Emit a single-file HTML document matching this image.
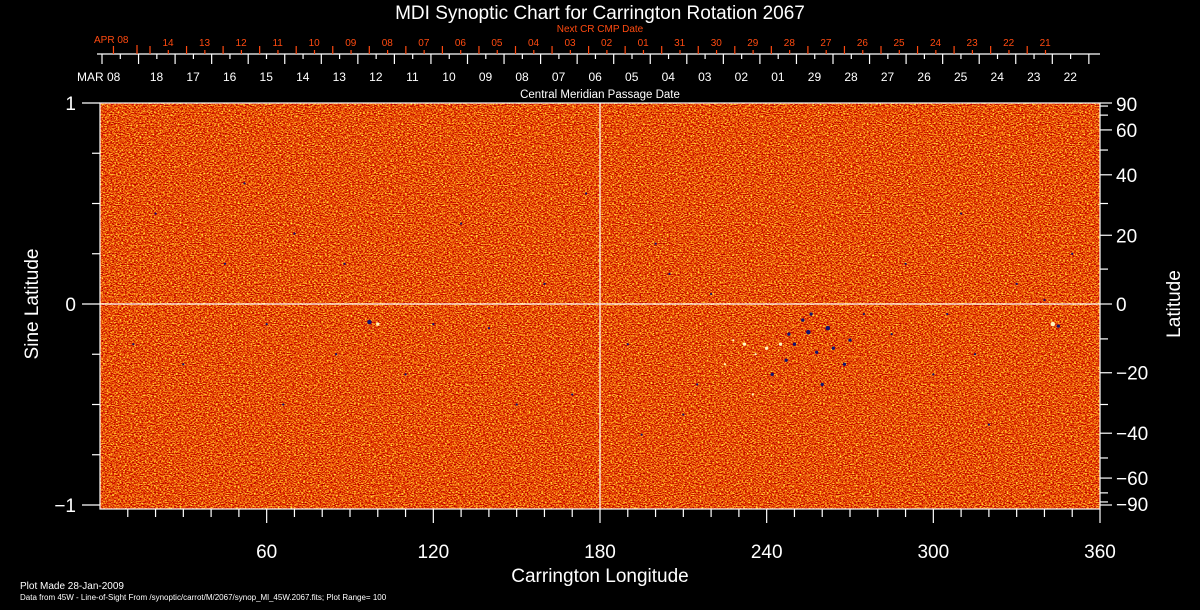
<!DOCTYPE html>
<html><head><meta charset="utf-8"><style>
html,body{margin:0;padding:0;background:#000;}
svg{display:block;font-family:"Liberation Sans",sans-serif;}
</style></head><body>
<svg id="chart" width="1200" height="610" viewBox="0 0 1200 610" xmlns="http://www.w3.org/2000/svg">
<defs>
<filter id="noise" x="0" y="0" width="100%" height="100%" color-interpolation-filters="sRGB">
<feTurbulence type="fractalNoise" baseFrequency="0.55 0.9" numOctaves="2" seed="7" result="t"/>
<feColorMatrix in="t" type="matrix" values="0.9 0 0 0 0.45  2.4 0 0 0 -0.9  1.0 0 0 0 -0.5  0 0 0 0 1"/>
</filter>
</defs>
<rect x="0" y="0" width="1200" height="610" fill="#000"/>
<g id="plot">
<rect x="100" y="103" width="1000" height="406" fill="#e84a18"/>
<rect x="100" y="103" width="1000" height="406" filter="url(#noise)"/>
<g id="spots"></g>
</g>
<g id="axes" fill="#fff" stroke="none"></g>
<text x="600" y="19" fill="#fff" font-size="19" text-anchor="middle">MDI Synoptic Chart for Carrington Rotation 2067</text>
<text x="600" y="32" fill="#ff4a10" font-size="10" text-anchor="middle">Next CR CMP Date</text>
<text x="600" y="98" fill="#fff" font-size="11.5" text-anchor="middle">Central Meridian Passage Date</text>
<text x="94" y="43" fill="#ff4a10" font-size="10">APR 08</text>
<text x="77" y="81" fill="#fff" font-size="12">MAR 08</text>
<text transform="translate(38,304) rotate(-90)" fill="#fff" font-size="19" text-anchor="middle">Sine Latitude</text>
<text transform="translate(1180,304) rotate(-90)" fill="#fff" font-size="19" text-anchor="middle">Latitude</text>
<text x="600" y="582" fill="#fff" font-size="19" text-anchor="middle">Carrington Longitude</text>
<text x="20" y="589" fill="#fff" font-size="10">Plot Made 28-Jan-2009</text>
<text x="20" y="600" fill="#fff" font-size="8">Data from 45W - Line-of-Sight From /synoptic/carrot/M/2067/synop_Ml_45W.2067.fits; Plot Range=  100</text>
</svg>
<script>
const lonTicks=[60,120,180,240,300,360];
const sinTicks=[1,0,-1];
const latTicks=[90,60,40,20,0,-20,-40,-60,-90];
const cmpLabels=["18","17","16","15","14","13","12","11","10","09","08","07","06","05","04","03","02","01","29","28","27","26","25","24","23","22"];
const nextLabels=["14","13","12","11","10","09","08","07","06","05","04","03","02","01","31","30","29","28","27","26","25","24","23","22","21"];
// spots: longitude, sine latitude, size, polarity(-1 dark blue, 1 bright)
const spotLon=[97,100,343,345,255,262,250,258,247,253,268,240,245,232,236,228,20,45,60,85,110,140,160,170,190,200,210,215,220,275,285,290,300,310,320,330,350,30,70,130,150,195,205,260,270,242,248,256,264,235,225,120,88,66,52,12,175,305,315,340];
const spotSin=[-0.09,-0.1,-0.1,-0.11,-0.14,-0.12,-0.2,-0.24,-0.28,-0.08,-0.3,-0.22,-0.2,-0.2,-0.25,-0.18,0.45,0.2,-0.1,-0.25,-0.35,-0.12,0.1,-0.45,-0.2,0.3,-0.55,-0.4,0.05,-0.05,-0.15,0.2,-0.35,0.45,-0.6,0.1,0.25,-0.3,0.35,0.4,-0.5,-0.65,0.15,-0.4,-0.18,-0.35,-0.15,-0.05,-0.22,-0.45,-0.3,-0.1,0.2,-0.5,0.6,-0.2,0.55,-0.05,-0.25,0.02];
const spotSize=[4,3,4,3,4,4,3,3,3,3,3,3,3,3,2,2,2,2,2,2,2,2,2,2,2,2,2,2,2,2,2,2,2,2,2,2,2,2,2,2,2,2,2,3,3,3,3,3,3,2,2,2,2,2,2,2,2,2,2,2];
const spotPol=[-1,1,1,-1,-1,-1,-1,-1,-1,-1,-1,1,1,1,1,1,-1,-1,-1,-1,-1,-1,-1,-1,-1,-1,-1,-1,-1,-1,-1,-1,-1,-1,-1,-1,-1,-1,-1,-1,-1,-1,-1,-1,-1,-1,-1,-1,-1,1,1,-1,-1,-1,-1,-1,-1,-1,-1,-1];

const X0=100,X1=1100,YC=304,YH=201;
const xs=l=>X0+(l/360)*(X1-X0);
const ys=s=>YC-s*YH;
const yl=d=>ys(Math.sin(d*Math.PI/180));
const NS="http://www.w3.org/2000/svg";
const ax=document.getElementById('axes');
const sp=document.getElementById('spots');
function mk(tag,attrs,parent){const e=document.createElementNS(NS,tag);for(const k in attrs)e.setAttribute(k,attrs[k]);parent.appendChild(e);return e;}
function line(x1,y1,x2,y2,c,name){const e=mk('line',{x1:x1,y1:y1,x2:x2,y2:y2,stroke:c||'#fff','stroke-width':1.2},ax);

return e;}
function txt(x,y,s,size,anchor,c,name){const e=mk('text',{x:x,y:y,'font-size':size,'text-anchor':anchor,fill:c||'#fff'},ax);e.textContent=s;

return e;}

for(let i=0;i<spotLon.length;i++){
  const e=mk('circle',{cx:xs(spotLon[i]),cy:ys(spotSin[i]),r:spotSize[i]/1.8,fill:spotPol[i]<0?'#14146e':'#fff8c0'},sp);
  
  
}
const f=mk('rect',{x:100,y:103,width:1000,height:406,fill:'none',stroke:'#fff','stroke-width':1.2},ax);


line(xs(180),103,xs(180),509,'#fff','meridian-180-line');
line(100,YC,1100,YC,'#fff','equator-line');
for(let l=10;l<=360;l+=10){const major=l%60===0;line(xs(l),509,xs(l),major?523:517,'#fff','x-tick');}
lonTicks.forEach(l=>txt(xs(l),558,String(l),19,'middle','#fff','x-tick-label'));
for(let s=-1;s<=1.001;s+=0.25){const major=Math.abs(s%1)<0.01;line(major?82:92,ys(s),100,ys(s),'#fff','left-tick');}
sinTicks.forEach(s=>txt(76,ys(s)+7,s<0?'\u22121':String(s),19,'end','#fff','left-tick-label'));
for(let d=-90;d<=90;d+=10){const major=latTicks.indexOf(d)>=0;line(1100,yl(d),major?1112:1108,yl(d),'#fff','right-tick');}
latTicks.forEach(d=>{let y=yl(d)+7;if(d===90)y=yl(d)+8;if(d===-90)y=yl(d)+6;txt(1116,y,d<0?'\u2212'+(-d):String(d),19,'start','#fff','right-tick-label');});
line(97,54,1100,54,'#fff','cmp-date-axis');
const DX=36.55;
for(let k=0;k<=27;k++){const x=102+k*DX;if(x<=1100)line(x,54,x,64,'#fff','cmp-day-tick');const xm=x+18.3;if(xm<=1100)line(xm,54,xm,59,'#fff','cmp-noon-tick');}
cmpLabels.forEach((s,i)=>txt(120+(i+1)*DX,81,s,12,'middle','#fff','cmp-date-label'));
for(let k=0;k<=25;k++){const x=150+(k-1)*DX;if(x>95&&x<=1100){line(x,46,x,54,'#ff4a10','next-cr-day-tick');}const xm=x+18.3;if(xm>95&&xm<=1100&&k>0)line(xm,50,xm,54,'#ff4a10','next-cr-noon-tick');}
line(137,45,137,54,'#ff4a10','next-cr-start-tick');
nextLabels.forEach((s,i)=>txt(168+i*DX,46,s,10,'middle','#ff4a10','next-cr-date-label'));
</script>
</body></html>
